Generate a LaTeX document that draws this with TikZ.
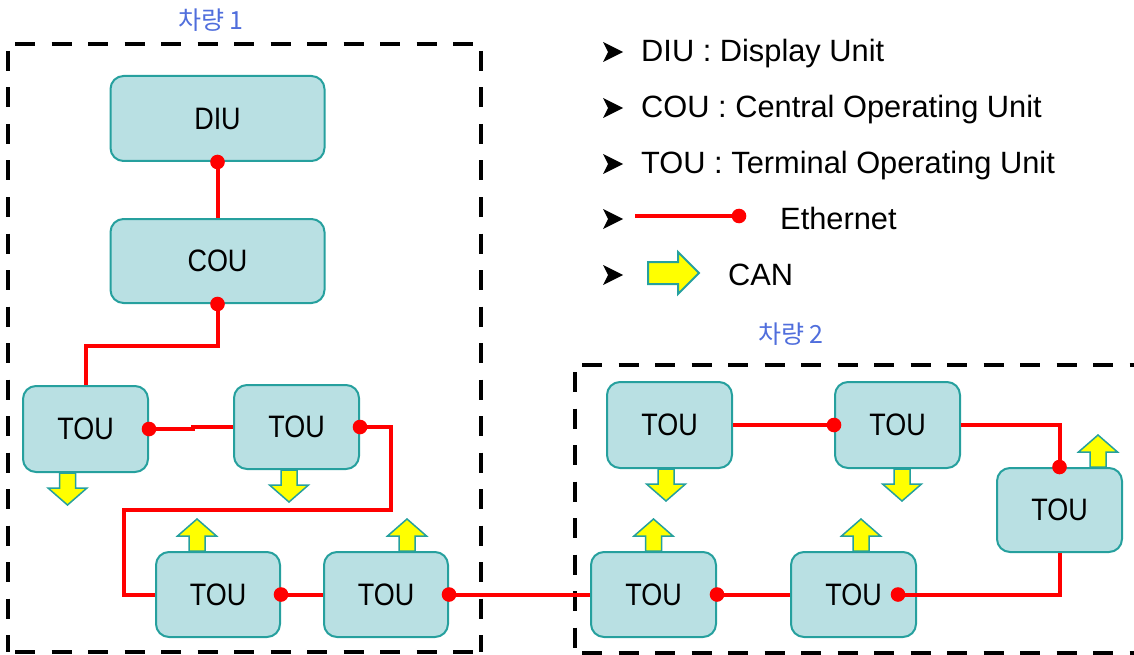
\documentclass[tikz,border=0pt]{standalone}
\usepackage{fontspec}
\setmainfont{Liberation Sans}
\newfontfamily\nodefont{Liberation Sans}[FakeStretch=0.87]
\newfontfamily\krfont{Noto Sans CJK KR}
\usetikzlibrary{backgrounds,calc}

\definecolor{unitfill}{RGB}{185,224,227}
\definecolor{unitline}{RGB}{38,160,158}
\definecolor{ethred}{RGB}{255,0,0}
\definecolor{canyellow}{RGB}{255,255,0}
\definecolor{labelblue}{RGB}{80,110,220}

\tikzset{
  unit/.style={draw=unitline, fill=unitfill, line width=2pt, rounded corners=13pt,
    inner sep=0pt, font=\nodefont\fontsize{31}{31}\selectfont},
  ethline/.style={draw=ethred, line width=4pt},
  zone/.style={line width=4.5pt, dash pattern=on 20pt off 16.5pt, dash phase=29.5pt},
  canbody/.style={fill=canyellow, draw=unitline, line width=1.5pt, line join=miter},
  pics/canarrow/.style={code={
    \path[canbody] (-8,0) -- (-8,15) -- (-19.5,15) -- (0,32) -- (19.5,15) -- (8,15) -- (8,0) -- cycle;}},
  pics/bulletmark/.style={code={
    \fill[black] (-10,-10) -- (10,0) -- (-10,10) -- (-5,0) -- cycle;}},
  legend/.style={font=\fontsize{30.8}{30.8}\selectfont, inner sep=0pt, anchor=base west},
  zonelabel/.style={font=\krfont\fontsize{25}{25}\selectfont, text=labelblue, inner sep=0pt},
}

\begin{document}
\begin{tikzpicture}[x=1pt, y=-1pt]
\useasboundingbox (0,0) rectangle (1134,655);
\clip (0,0) rectangle (1134,655);

% vehicle zones
\draw[zone] (8,44) -- (481,44);
\draw[zone] (8,44) -- (8,652);
\draw[zone] (481,44) -- (481,652);
\draw[zone] (8,652) -- (481,652);
\draw[zone] (575,365) -- (1150,365);
\draw[zone] (575,365) -- (575,653);
\draw[zone] (575,653) -- (1150,653);

\node[zonelabel] (zone1) at (211,20) {차량 1};
\node[zonelabel] (zone2) at (791,334) {차량 2};

% units of vehicle 1
\node[unit, minimum width=214pt, minimum height=85pt] (diu) at (217.5,118.5) {DIU};
\node[unit, minimum width=214pt, minimum height=84pt] (cou) at (217.5,261) {COU};
\node[unit, minimum width=125pt, minimum height=86pt] (t1) at (85.5,429) {TOU};
\node[unit, minimum width=125pt, minimum height=84pt] (t2) at (296.5,427) {TOU};
\node[unit, minimum width=124pt, minimum height=85pt] (t3) at (218,594.5) {TOU};
\node[unit, minimum width=124pt, minimum height=85pt] (t4) at (386,594.5) {TOU};

% units of vehicle 2
\node[unit, minimum width=125pt, minimum height=86pt] (ta) at (669.5,425) {TOU};
\node[unit, minimum width=125pt, minimum height=86pt] (tc) at (897.5,425) {TOU};
\node[unit, minimum width=125pt, minimum height=84pt] (te) at (1059.5,510) {TOU};
\node[unit, minimum width=125pt, minimum height=85pt] (tb) at (653.5,594.5) {TOU};
\node[unit, minimum width=125pt, minimum height=85pt] (td) at (853.5,594.5) {TOU};

% CAN arrows behind the units
\begin{pgfonlayer}{background}
  \pic at ([xshift=-18pt]t1.south) {canarrow};
  \pic at ([xshift=-7.5pt]t2.south) {canarrow};
  \pic[rotate=180] at ([xshift=-21pt]t3.north) {canarrow};
  \pic[rotate=180] at ([xshift=21pt]t4.north) {canarrow};
  \pic at ([xshift=-3.5pt]ta.south) {canarrow};
  \pic at ([xshift=4.5pt]tc.south) {canarrow};
  \pic[rotate=180] at (tb.north) {canarrow};
  \pic[rotate=180] at ([xshift=7.5pt]td.north) {canarrow};
  \pic[rotate=180] at ([xshift=38.5pt]te.north) {canarrow};
\end{pgfonlayer}

% Ethernet links
\coordinate (tdport) at ([xshift=-19pt]td.east);
\draw[ethline] (diu.south) -- (cou.north);
\draw[ethline] (cou.south) -- ++(0,42) -| (t1.north);
\draw[ethline] (t1.east) -- ++(44,0) |- (t2.west);
\draw[ethline] (t2.east) -- ++(31,0) -- ++(0,83) -| ([xshift=-31pt]t3.west) -- (t3.west);
\draw[ethline] (t3.east) -- (t4.west);
\draw[ethline] (t4.east) -- (tb.west);
\draw[ethline] (ta.east) -- (tc.west);
\draw[ethline] (tc.east) -| (te.north);
\draw[ethline] (tb.east) -- (td.west);
\draw[ethline] (tdport) -| (te.south);

\foreach \p in {diu.south, cou.south, t1.east, t2.east, t3.east, t4.east,
                tc.west, te.north, tb.east, tdport}
  \fill[ethred] (\p) circle (7.3pt);

% legend
\foreach \y in {52,108,164,219,275}
  \pic at (613,\y) {bulletmark};
\node[legend] (lgdiu) at (641,62) {DIU : Display Unit};
\node[legend] (lgcou) at (641,118) {COU : Central Operating Unit};
\node[legend] (lgtou) at (641,174) {TOU : Terminal Operating Unit};
\coordinate (etha) at (635,216);
\coordinate (ethb) at (739,216);
\draw[ethline] (etha) -- (ethb);
\fill[ethred] (ethb) circle (7.3pt);
\node[legend] (lgeth) at (780,229) {Ethernet};
\path[canbody, line width=2pt] (648,262) -- (678,262) -- (678,252) -- (699,273)
  -- (678,294) -- (678,284) -- (648,284) -- cycle;
\node[legend] (lgcan) at (728,285) {CAN};
\end{tikzpicture}
\end{document}
